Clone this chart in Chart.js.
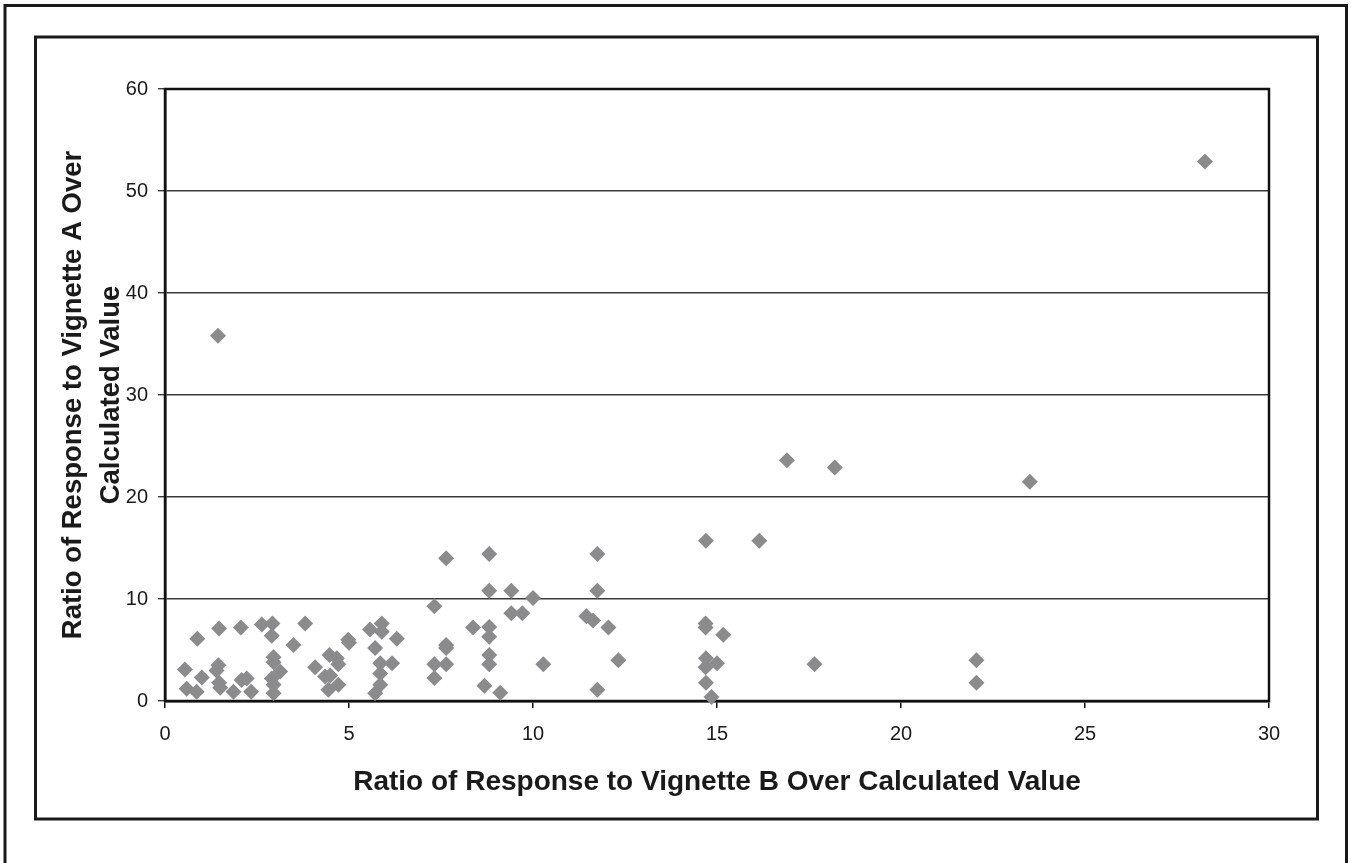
<!DOCTYPE html>
<html lang="en">
<head>
  <meta charset="UTF-8" />
  <title>Vignette A vs Vignette B</title>
  <script src="https://cdn.jsdelivr.net/npm/chart.js"></script>
  <style>
    body { margin: 0; background: #fff; overflow: hidden; }
    canvas { display: block; }
  </style>
</head>
<body>
  <canvas id="scatter" width="1351" height="863"></canvas>

  <script>
    // ratio for vignette B (x) and vignette A (y)
    const ratioB = [
      0.54, 0.59, 0.86, 0.88, 1.0, 1.4, 1.45, 1.47, 1.47, 1.5, 1.86, 2.06, 2.08, 2.22, 2.34,
      2.63, 2.92, 2.9, 2.95, 2.95, 3.13, 2.9, 2.95, 2.95, 3.49, 3.81, 4.08, 4.47, 4.67, 4.49,
      4.35, 4.71, 4.44, 4.71, 4.98, 5.0, 5.57, 5.89, 5.89, 6.3, 5.71, 5.85, 6.17, 5.85, 5.85,
      5.71, 1.44,
      7.64, 8.81, 11.75, 8.81, 9.41, 10.0, 11.75, 7.32, 9.41, 9.71, 11.45, 11.63, 12.05, 8.37,
      8.81, 8.81, 7.64, 7.64, 7.32, 7.64, 8.81, 8.81, 10.28, 12.32, 7.32, 8.68, 9.11, 11.75,
      14.7, 16.15, 16.9, 18.2, 23.5, 28.26, 14.69, 14.69, 15.17, 14.7, 15.0, 14.69, 14.7, 14.85,
      17.65, 22.05, 22.05
    ];
    const ratioA = [
      3.1, 1.2, 0.9, 6.1, 2.3, 3.0, 3.5, 7.1, 1.8, 1.3, 0.9, 7.2, 2.05, 2.2, 0.9,
      7.5, 7.6, 6.4, 4.3, 3.8, 2.9, 2.2, 1.6, 0.75, 5.5, 7.6, 3.3, 4.5, 4.2, 2.5,
      2.4, 3.6, 1.1, 1.6, 6.0, 5.7, 7.0, 7.6, 6.8, 6.1, 5.2, 3.7, 3.7, 2.7, 1.6,
      0.75, 35.8,
      14.0, 14.4, 14.4, 10.8, 10.8, 10.1, 10.8, 9.3, 8.6, 8.6, 8.3, 7.9, 7.2, 7.2,
      7.25, 6.3, 5.5, 5.2, 3.6, 3.6, 4.5, 3.6, 3.6, 4.0, 2.25, 1.5, 0.8, 1.1,
      15.7, 15.7, 23.6, 22.9, 21.5, 52.9, 7.6, 7.2, 6.5, 4.2, 3.7, 3.3, 1.8, 0.4,
      3.6, 4.0, 1.8
    ];
    const xTitle = 'Ratio of Response to Vignette B Over Calculated Value';
    const yTitle = ['Ratio of Response to Vignette A Over', 'Calculated Value'];

    const points = ratioB.map((x, i) => ({ x: x, y: ratioA[i] }));

    // page border, the boxed frame and the black plot outline
    const frames = {
      id: 'frames',
      beforeDraw(chart) {
        const c = chart.ctx;
        c.save();
        c.strokeStyle = '#1a1a1a';
        c.lineWidth = 3;
        c.beginPath();
        c.moveTo(5, 870);
        c.lineTo(5, 5.5);
        c.lineTo(1346.5, 5.5);
        c.lineTo(1346.5, 870);
        c.stroke();
        c.strokeRect(35.5, 37, 1282, 782);
        c.restore();
      },
      beforeDatasetsDraw(chart) {
        const a = chart.chartArea;
        const c = chart.ctx;
        c.save();
        c.strokeStyle = '#111';
        c.lineWidth = 2.5;
        c.strokeRect(a.left, a.top, a.right - a.left, a.bottom - a.top);
        c.restore();
      }
    };

    const tickFont = { family: 'Liberation Sans, Arial, sans-serif', size: 20 };
    const titleFont = { family: 'Liberation Sans, Arial, sans-serif', size: 27.5, weight: 'bold' };

    new Chart(document.getElementById('scatter'), {
      type: 'scatter',
      data: {
        datasets: [{
          data: points,
          pointStyle: 'rectRot',
          pointRadius: 8,
          pointHoverRadius: 8,
          backgroundColor: '#8b8b8d',
          borderColor: '#8b8b8d',
          borderWidth: 0,
          clip: false
        }]
      },
      options: {
        responsive: false,
        animation: false,
        layout: { padding: { left: 54, top: 89, right: 82, bottom: 52 } },
        plugins: { legend: { display: false }, tooltip: { enabled: false } },
        scales: {
          x: {
            min: 0, max: 30,
            afterFit: s => { s.height = 110; },
            ticks: { stepSize: 5, color: '#1a1a1a', font: tickFont, padding: 14, maxRotation: 0 },
            grid: { drawOnChartArea: false, tickLength: 7, color: '#111', lineWidth: 1.5 },
            border: { color: '#111', width: 2.5 },
            title: { display: true, text: xTitle, color: '#1a1a1a', font: { ...titleFont, size: 28 }, padding: { top: 0, bottom: 12 } }
          },
          y: {
            min: 0, max: 60,
            afterFit: s => { s.width = 111; },
            ticks: { stepSize: 10, color: '#1a1a1a', font: tickFont, padding: 10 },
            grid: { tickLength: 7, color: '#3a3a3a', lineWidth: 1.4 },
            border: { color: '#111', width: 2.5 },
            title: { display: true, text: yTitle, color: '#1a1a1a', font: { ...titleFont, lineHeight: 1.38 }, padding: { top: 0, bottom: 0 } }
          }
        }
      },
      plugins: [frames]
    });
  </script>
</body>
</html>
